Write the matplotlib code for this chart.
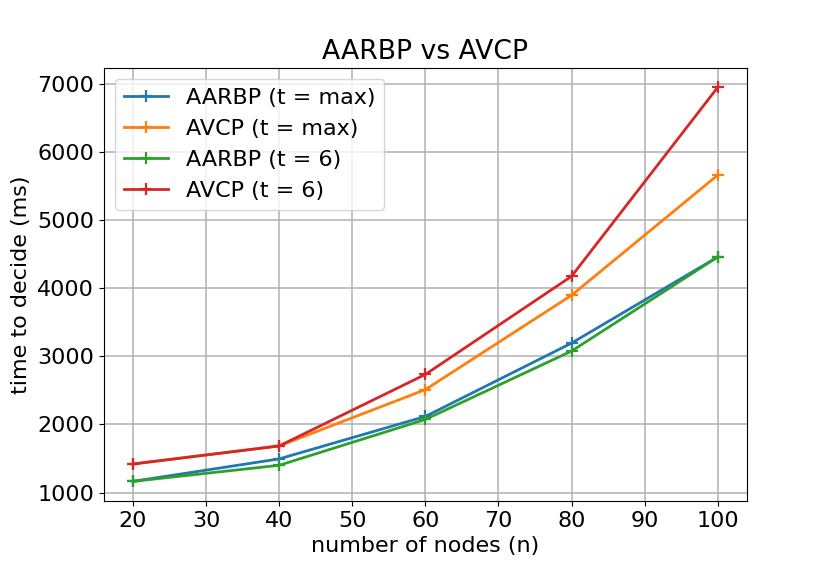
import matplotlib
matplotlib.use('Agg')
import matplotlib.pyplot as plt

# number of nodes
nodes = [20, 40, 60, 80, 100]

# time to decide (ms)
aarbp_max = [1165, 1495, 2118, 3195, 4460]
avcp_max = [1420, 1685, 2512, 3897, 5662]
aarbp_6 = [1165, 1401, 2074, 3078, 4460]
avcp_6 = [1420, 1685, 2735, 4176, 6951]

plt.rcParams['font.size'] = 16

fig, ax = plt.subplots(figsize=(8.3, 5.63), dpi=100)
ax.plot(nodes, aarbp_max, marker='+', lw=2, markersize=9, mew=1.6, label='AARBP (t = max)')
ax.plot(nodes, avcp_max, marker='+', lw=2, markersize=9, mew=1.6, label='AVCP (t = max)')
ax.plot(nodes, aarbp_6, marker='+', lw=2, markersize=9, mew=1.6, label='AARBP (t = 6)')
ax.plot(nodes, avcp_6, marker='+', lw=2, markersize=9, mew=1.6, label='AVCP (t = 6)')

ax.set_xticks([20, 30, 40, 50, 60, 70, 80, 90, 100])
ax.grid(True, linewidth=1.1)
ax.legend(loc='upper left')
ax.set_xlabel('number of nodes (n)')
ax.set_ylabel('time to decide (ms)')
ax.set_title('AARBP vs AVCP')

plt.savefig('out.png')
